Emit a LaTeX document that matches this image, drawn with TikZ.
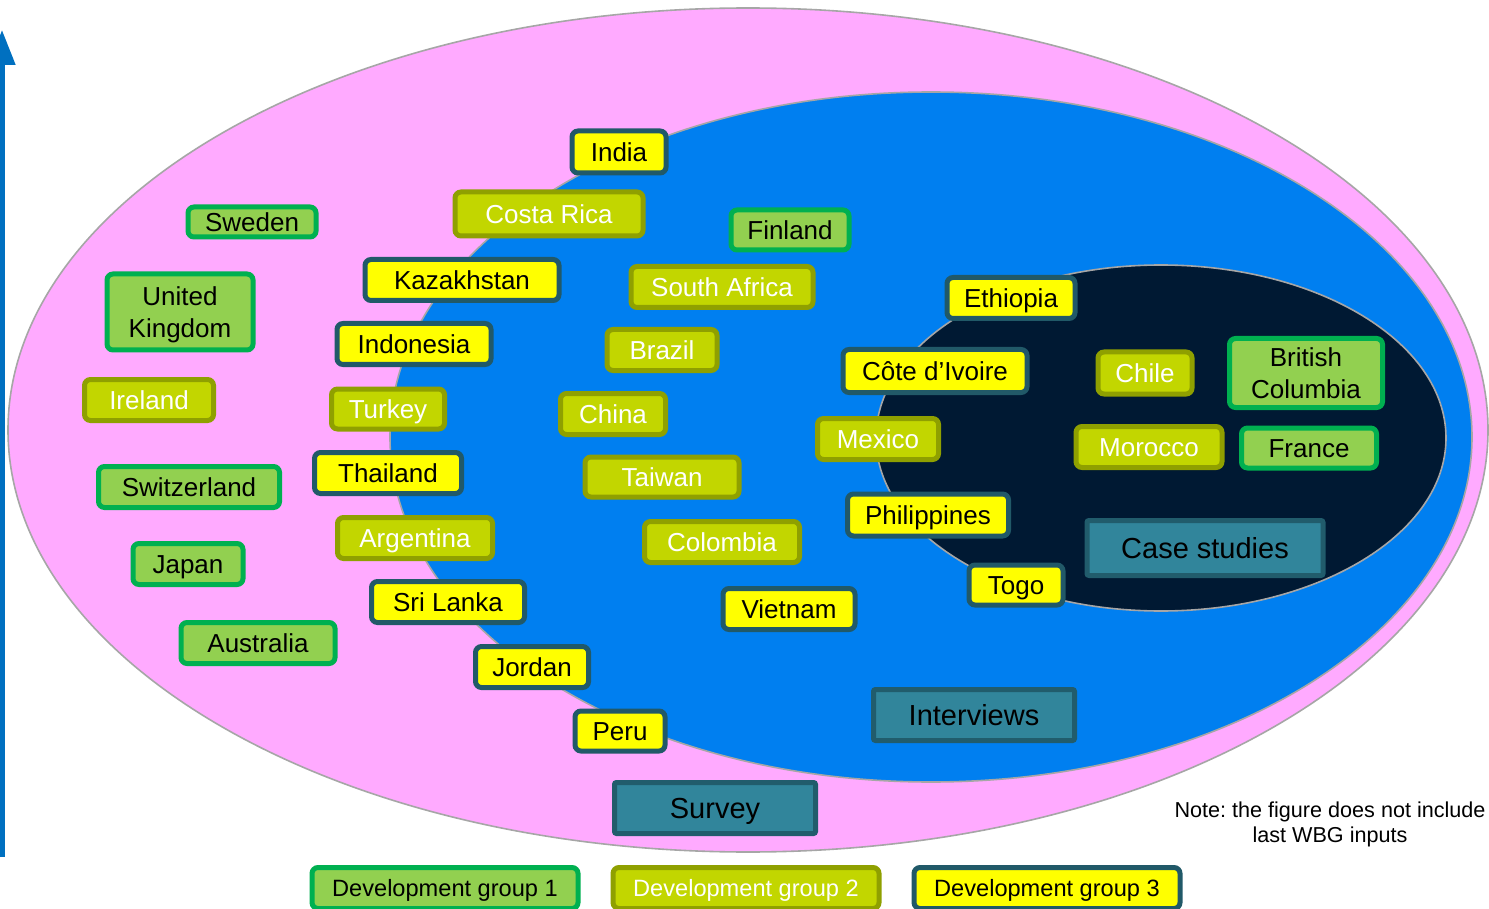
\documentclass[tikz,border=0pt]{standalone}
\usepackage{fontspec}
\setmainfont{Liberation Sans}
\usepackage{xcolor}
\usetikzlibrary{arrows.meta,positioning}
\frenchspacing
\definecolor{pinkset}{RGB}{255,170,255}
\definecolor{blueset}{RGB}{0,127,240}
\definecolor{navyset}{RGB}{0,25,51}
\definecolor{rimgray}{RGB}{166,166,166}
\definecolor{axisblue}{RGB}{0,112,192}
\definecolor{g1fill}{RGB}{146,208,80}
\definecolor{g1line}{RGB}{0,176,80}
\definecolor{g2fill}{RGB}{194,214,0}
\definecolor{g2line}{RGB}{143,160,0}
\definecolor{g3fill}{RGB}{255,255,0}
\definecolor{g3line}{RGB}{33,89,104}
\definecolor{methfill}{RGB}{49,133,155}
\definecolor{methline}{RGB}{33,92,108}

\tikzset{
  cbox/.style={rounded corners=3pt, line width=2.5pt, inner sep=0pt,
    minimum height=20.5pt, align=center, font=\fontsize{13}{16}\selectfont,
    text height=11.7pt, text depth=2.5pt},
  twolines/.style={text height=27.7pt},
  dev1/.style={cbox, draw=g1line, fill=g1fill, text=black},
  dev2/.style={cbox, draw=g2line, fill=g2fill, text=white},
  dev3/.style={cbox, draw=g3line, fill=g3fill, text=black},
  method/.style={rounded corners=1pt, line width=2.5pt, draw=methline, fill=methfill,
    inner sep=0pt, minimum width=100.5pt, minimum height=25.5pt,
    font=\fontsize{14.5}{17}\selectfont, text height=13pt, text depth=2.8pt},
  legendbox/.style={minimum width=133pt, font=\fontsize{11.8}{14}\selectfont,
    text height=10.9pt, text depth=2.5pt}
}

\begin{document}
\begin{tikzpicture}[x=0.5pt,y=-0.5pt]
\useasboundingbox (0,0) rectangle (1489,909);
% axis
\coordinate (axisfoot) at (2,857);
\coordinate (axishead) at (2,30);
\draw[axisblue, line width=2.5pt, -{Triangle[width=13pt,length=17.5pt]}] (axisfoot) -- (axishead);
% sets
\filldraw[fill=pinkset, draw=rimgray, line width=0.8pt] (748,430) ellipse [x radius=740, y radius=422]; % survey
\filldraw[fill=blueset, draw=rimgray, line width=0.8pt] (931,437) ellipse [x radius=541, y radius=345]; % interviews
\filldraw[fill=navyset, draw=rimgray, line width=0.8pt] (1161,438) ellipse [x radius=285, y radius=173]; % case studies
% Development group 1
\node[dev1, minimum width=64pt, minimum height=15pt] (sweden) at (252,222) {Sweden};
\node[dev1, twolines, minimum width=73pt, minimum height=38pt] (uk) at (180,312) {United\\Kingdom};
\node[dev1, minimum width=90.5pt] (switzerland) at (189,487) {Switzerland};
\node[dev1, minimum width=55pt] (japan) at (188,564) {Japan};
\node[dev1, minimum width=77pt] (australia) at (258,643) {Australia};
\node[dev1, minimum width=59pt, minimum height=20pt] (finland) at (790,230) {Finland};
\node[dev1, twolines, minimum width=76.5pt, minimum height=34.5pt] (bc) at (1306,373) {British\\Columbia};
\node[dev1, minimum width=67.5pt, minimum height=20pt] (france) at (1309,448) {France};
% Development group 2
\node[dev2, minimum width=64.5pt] (ireland) at (149,400) {Ireland};
\node[dev2, minimum width=94pt, minimum height=22pt] (costarica) at (549,214) {Costa Rica};
\node[dev2, minimum width=91pt] (southafrica) at (722,287) {South Africa};
\node[dev2, minimum width=55pt] (brazil) at (662,350) {Brazil};
\node[dev2, minimum width=56.5pt, minimum height=20pt] (turkey) at (388,409) {Turkey};
\node[dev2, minimum width=52.5pt] (china) at (613,414) {China};
\node[dev2, minimum width=77pt, minimum height=20pt] (taiwan) at (662,477) {Taiwan};
\node[dev2, minimum width=77.5pt] (argentina) at (415,538) {Argentina};
\node[dev2, minimum width=77.5pt] (colombia) at (722,542) {Colombia};
\node[dev2, minimum width=60.5pt] (mexico) at (878,439) {Mexico};
\node[dev2, minimum width=47pt, minimum height=21pt] (chile) at (1145,373) {Chile};
\node[dev2, minimum width=73pt] (morocco) at (1149,447) {Morocco};
% Development group 3
\node[dev3, minimum width=47pt, minimum height=21pt] (india) at (619,152) {India};
\node[dev3, minimum width=97pt] (kazakhstan) at (462,280) {Kazakhstan};
\node[dev3, minimum width=77pt] (indonesia) at (414,344) {Indonesia};
\node[dev3, minimum width=73.5pt] (thailand) at (388,473) {Thailand};
\node[dev3, minimum width=76.5pt] (srilanka) at (448,602) {Sri Lanka};
\node[dev3, minimum width=56.5pt] (jordan) at (532,667) {Jordan};
\node[dev3, minimum width=45pt, minimum height=20pt] (peru) at (620,731) {Peru};
\node[dev3, minimum width=64pt] (ethiopia) at (1011,298) {Ethiopia};
\node[dev3, minimum width=92pt, minimum height=21.5pt] (cote) at (935,371) {Côte d’Ivoire};
\node[dev3, minimum width=80.5pt, minimum height=21pt] (philippines) at (928,515) {Philippines};
\node[dev3, minimum width=66pt] (vietnam) at (789,609) {Vietnam};
\node[dev3, minimum width=47pt, minimum height=20pt] (togo) at (1016,585) {Togo};
% Methods
\node[method, minimum width=118pt, minimum height=27.5pt] (casestudies) at (1205,548) {Case studies};
\node[method] (interviews) at (974,715) {Interviews};
\node[method] (survey) at (715,808) {Survey};
% Legend
\node[dev1, legendbox] (leg1) at (445,888) {Development group 1};
\node[dev2, legendbox, right = 15pt of leg1] (leg2) {Development group 2};
\node[dev3, legendbox, right = 15pt of leg2] (leg3) {Development group 3};
% Note
\node[align=center, font=\fontsize{10.8}{12.5}\selectfont] (note) at (1330,824) {Note: the figure does not include\\last WBG inputs};
\end{tikzpicture}
\end{document}
